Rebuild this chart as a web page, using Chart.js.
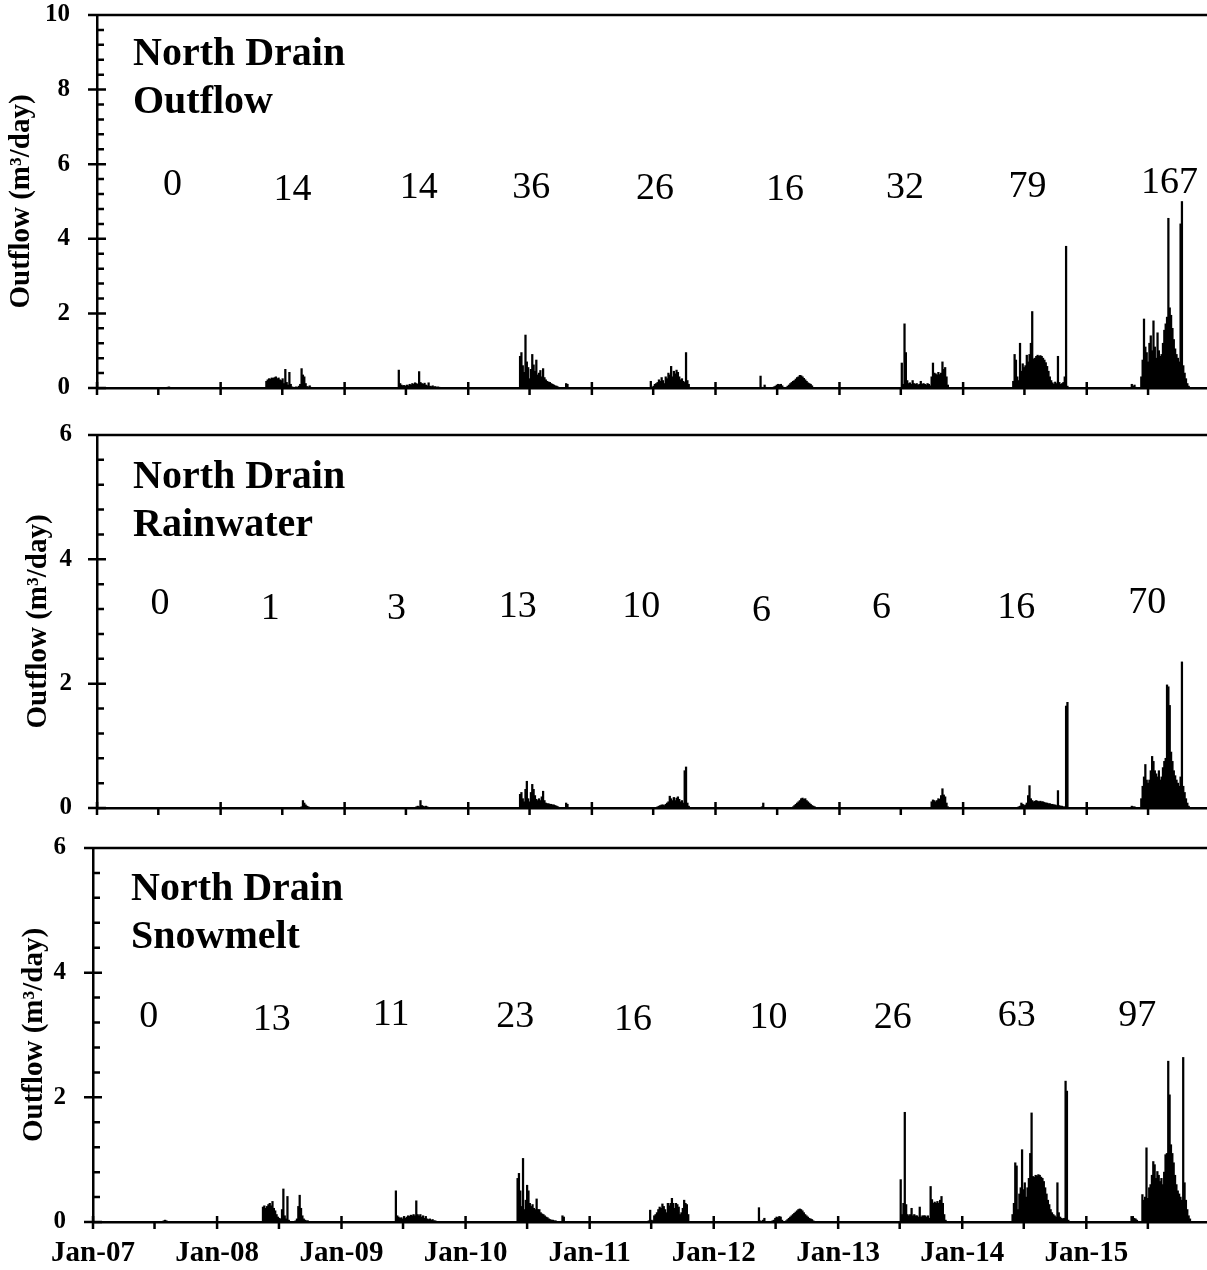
<!DOCTYPE html>
<html>
<head>
<meta charset="utf-8">
<script src="https://cdn.jsdelivr.net/npm/chart.js@4.4.0/dist/chart.umd.min.js"></script>
<style>
  html, body { margin: 0; padding: 0; background: #fff; }
  #wrap { position: relative; width: 1207px; height: 1270px; }
  #wrap canvas { position: absolute; left: 0; }
</style>
</head>
<body>
<div id="wrap">
  <canvas id="c1" width="1207" height="410" style="top:0"></canvas>
  <canvas id="c2" width="1207" height="410" style="top:410px"></canvas>
  <canvas id="c3" width="1207" height="450" style="top:820px"></canvas>
</div>
<script>
'use strict'

// ---- data ----
const years = [2007, 2008, 2009, 2010, 2011, 2012, 2013, 2014, 2015]
const tickLabels = ['Jan-07', 'Jan-08', 'Jan-09', 'Jan-10', 'Jan-11', 'Jan-12', 'Jan-13', 'Jan-14', 'Jan-15']

// first day of each year's flow season, values are read every STEP_DAYS from there
const burstStart = ['2007-07-28', '2008-05-15', '2009-06-10', '2010-06-03', '2011-06-24',
  '2012-05-13', '2013-07-04', '2014-05-29', '2015-05-14']
const STEP_DAYS = 4

const outflowDaily = [
  [0.02, 0.03, 0.02, 0.01],
  [0.18, 0.22, 0.25, 0.24, 0.27, 0.26, 0.28, 0.30, 0.25, 0.27, 0.22, 0.20, 0.25, 0.12, 0.50, 0.15, 0.08, 0.42, 0.10, 0.03,
    0.02, 0.02, 0.03, 0.02, 0.05, 0.10, 0.52, 0.35, 0.30, 0.12, 0.04, 0.03, 0.06, 0.02],
  [0.48, 0.12, 0.08, 0.06, 0.07, 0.05, 0.08, 0.06, 0.10, 0.08, 0.12, 0.10, 0.14, 0.12, 0.10, 0.44, 0.15, 0.12, 0.10, 0.13,
    0.08, 0.06, 0.14, 0.05, 0.04, 0.06, 0.03, 0.04, 0.02, 0.03, 0.02],
  [0.85, 0.95, 0.60, 0.42, 1.42, 0.70, 0.55, 0.25, 0.50, 0.90, 0.62, 0.45, 0.75, 0.35, 0.40, 0.47, 0.30, 0.52, 0.28, 0.22,
    0.18, 0.16, 0.15, 0.12, 0.10, 0.08, 0.06, 0.05, 0.03, 0, 0, 0, 0, 0, 0.12, 0.10],
  [0.18, 0.02, 0.05, 0.10, 0.12, 0.15, 0.22, 0.18, 0.28, 0.20, 0.12, 0.30, 0.25, 0.40, 0.35, 0.58, 0.30, 0.45, 0.38, 0.48,
    0.42, 0.30, 0.22, 0.25, 0.18, 0.15, 0.95, 0.20, 0.10],
  [0.32, 0.02, 0, 0.08, 0.02, 0, 0, 0, 0.01, 0.02, 0.03, 0.05, 0.08, 0.10, 0.09, 0.10, 0.06, 0.02, 0, 0.02,
    0.05, 0.08, 0.12, 0.15, 0.18, 0.20, 0.24, 0.28, 0.30, 0.34, 0.33, 0.30, 0.26, 0.22, 0.18, 0.14, 0.12, 0.10, 0.06],
  [0.67, 0.10, 1.72, 0.95, 0.20, 0.12, 0.14, 0.10, 0.20, 0.12, 0.10, 0.12, 0.08, 0.10, 0.18, 0.10, 0.12, 0.10, 0.08, 0.12,
    0.10, 0.06, 0.30, 0.67, 0.40, 0.38, 0.35, 0.42, 0.36, 0.40, 0.70, 0.50, 0.55, 0.30, 0.08],
  [0.18, 0.90, 0.75, 0.30, 0.20, 1.20, 0.45, 0.65, 0.55, 0.60, 0.88, 0.70, 0.90, 1.20, 2.05, 0.78, 0.80, 0.85, 0.88, 0.85,
    0.87, 0.85, 0.80, 0.75, 0.68, 0.58, 0.45, 0.30, 0.20, 0.14, 0.10, 0.16, 0.12, 0.85, 0.15, 0.10, 0.12, 0.15, 0.30, 3.80, 0.05],
  [0.10, 0.05, 0.08, 0.02, 0, 0, 0, 0.30, 0.75, 1.85, 1.10, 0.95, 0.70, 1.20, 1.40, 1.00, 1.80, 1.10, 0.80, 1.48,
    1.00, 0.85, 0.90, 1.20, 1.55, 1.72, 1.90, 4.55, 2.15, 1.95, 1.60, 1.30, 1.05, 0.90, 0.80, 0.70, 4.40, 5.00, 0.60, 0.40,
    0.25, 0.12, 0.05]
]

const rainDaily = [
  [],
  [0.01, 0.01, 0, 0, 0, 0, 0, 0, 0, 0, 0, 0, 0, 0, 0.01, 0, 0, 0.01, 0, 0,
    0, 0, 0, 0, 0, 0, 0.02, 0.12, 0.08, 0.05, 0.03, 0.02, 0.01, 0.01],
  [0, 0, 0, 0, 0, 0, 0, 0, 0, 0, 0, 0, 0, 0.02, 0.03, 0.02, 0.12, 0.04, 0.03, 0.02, 0.03, 0.02, 0.01],
  [0.22, 0.25, 0.15, 0.10, 0.30, 0.43, 0.15, 0.10, 0.25, 0.38, 0.30, 0.20, 0.14, 0.12, 0.15, 0.12, 0.18, 0.27, 0.12, 0.08,
    0.07, 0.07, 0.06, 0.06, 0.05, 0.05, 0.04, 0.03, 0.02, 0, 0, 0, 0, 0, 0.08, 0.06],
  [0, 0, 0, 0, 0.01, 0.02, 0.03, 0.04, 0.05, 0.05, 0.04, 0.06, 0.08, 0.10, 0.19, 0.15, 0.12, 0.17, 0.12, 0.16,
    0.18, 0.14, 0.10, 0.12, 0.08, 0.60, 0.66, 0.08, 0.03],
  [0, 0.02, 0.08, 0.01, 0, 0, 0, 0, 0, 0, 0, 0, 0, 0, 0, 0, 0, 0, 0, 0,
    0, 0, 0, 0.01, 0.02, 0.04, 0.06, 0.08, 0.10, 0.12, 0.15, 0.16, 0.14, 0.15, 0.12, 0.10, 0.08, 0.06, 0.04, 0.03, 0.02],
  [0, 0, 0, 0, 0, 0, 0, 0, 0, 0, 0, 0, 0, 0, 0, 0, 0, 0, 0, 0,
    0, 0, 0.10, 0.13, 0.12, 0.10, 0.12, 0.15, 0.14, 0.20, 0.31, 0.21, 0.18, 0.08, 0.02],
  [0, 0, 0, 0, 0.02, 0.03, 0.08, 0.06, 0.04, 0.05, 0.08, 0.20, 0.36, 0.15, 0.12, 0.10, 0.11, 0.12, 0.11, 0.10,
    0.11, 0.10, 0.10, 0.09, 0.08, 0.08, 0.07, 0.07, 0.06, 0.06, 0.05, 0.05, 0.04, 0.28, 0.04, 0.03, 0.03, 0.02, 0.02, 1.64, 1.70],
  [0.03, 0.02, 0.02, 0, 0, 0, 0, 0.15, 0.35, 0.50, 0.70, 0.45, 0.40, 0.45, 0.60, 0.83, 0.75, 0.60, 0.55, 0.50,
    0.60, 0.45, 0.50, 0.65, 0.75, 0.80, 1.98, 1.95, 1.65, 0.90, 0.75, 0.60, 0.52, 0.45, 0.40, 0.35, 0.50, 2.35, 0.35, 0.25,
    0.15, 0.08, 0.03]
]

const snowDaily = [
  [0.02, 0.03, 0.02],
  [0.24, 0.26, 0.22, 0.25, 0.28, 0.30, 0.26, 0.33, 0.22, 0.18, 0.12, 0.08, 0.06, 0.05, 0.20, 0.53, 0.10, 0.05, 0.41, 0.03,
    0.01, 0.01, 0.01, 0.01, 0.02, 0.05, 0.25, 0.43, 0.22, 0.10, 0.05, 0.03, 0.02, 0.02],
  [0.50, 0.10, 0.08, 0.06, 0.07, 0.05, 0.09, 0.06, 0.08, 0.10, 0.09, 0.11, 0.10, 0.12, 0.10, 0.34, 0.12, 0.10, 0.12, 0.08,
    0.10, 0.06, 0.09, 0.05, 0.04, 0.05, 0.03, 0.04, 0.02, 0.02, 0.01],
  [0.70, 0.78, 0.50, 0.25, 1.02, 0.20, 0.35, 0.59, 0.50, 0.30, 0.25, 0.28, 0.22, 0.20, 0.37, 0.20, 0.20, 0.15, 0.13, 0.12,
    0.10, 0.08, 0.07, 0.05, 0.04, 0.03, 0.03, 0.02, 0.02, 0, 0, 0, 0, 0.10, 0.08],
  [0.02, 0.19, 0.03, 0.02, 0.10, 0.12, 0.15, 0.20, 0.24, 0.22, 0.29, 0.25, 0.20, 0.15, 0.30, 0.26, 0.30, 0.38, 0.30, 0.22,
    0.30, 0.28, 0.24, 0.12, 0.15, 0.22, 0.35, 0.30, 0.28, 0.12],
  [0.23, 0.02, 0, 0.03, 0.06, 0, 0, 0, 0, 0.01, 0.02, 0.03, 0.06, 0.08, 0.07, 0.09, 0.08, 0.03, 0, 0,
    0.02, 0.04, 0.06, 0.08, 0.10, 0.12, 0.14, 0.16, 0.18, 0.20, 0.21, 0.20, 0.18, 0.15, 0.12, 0.10, 0.08, 0.06, 0.05, 0.04, 0.02],
  [0.68, 0.12, 0.30, 1.76, 0.28, 0.12, 0.10, 0.12, 0.22, 0.10, 0.12, 0.10, 0.10, 0.08, 0.24, 0.08, 0.10, 0.10, 0.10, 0.08,
    0.10, 0.06, 0.57, 0.36, 0.30, 0.32, 0.30, 0.33, 0.30, 0.35, 0.41, 0.30, 0.12, 0.03],
  [0.12, 0.30, 0.95, 0.90, 0.20, 0.45, 0.55, 1.16, 0.52, 0.63, 0.40, 0.55, 0.70, 1.10, 1.75, 0.73, 0.72, 0.75, 0.74, 0.76,
    0.75, 0.72, 0.70, 0.65, 0.55, 0.45, 0.35, 0.28, 0.20, 0.15, 0.12, 0.10, 0.08, 0.63, 0.15, 0.08, 0.06, 0.05, 0.06, 2.26,
    2.10, 0.03],
  [0.09, 0.09, 0.06, 0.05, 0.03, 0, 0, 0, 0.44, 0.35, 0.40, 1.19, 0.38, 0.55, 0.60, 0.75, 0.97, 0.92, 0.70, 0.81,
    0.75, 0.65, 0.70, 0.60, 0.80, 1.08, 1.10, 2.58, 2.04, 1.24, 1.10, 0.95, 0.75, 0.60, 0.50, 0.45, 0.40, 0.35, 2.64, 0.63,
    0.35, 0.20, 0.10, 0.05]
]

// yearly totals printed above each season
const outflowTotals = [0, 14, 14, 36, 26, 16, 32, 79, 167]
const rainTotals = [0, 1, 3, 13, 10, 6, 6, 16, 70]
const snowTotals = [0, 13, 11, 23, 16, 10, 26, 63, 97]

// ---- helpers ----
const FONT = '"Liberation Serif", "Times New Roman", serif'
Chart.defaults.font.family = FONT
Chart.defaults.color = '#000'

const DAY = 86400000
const ORIGIN = Date.UTC(2007, 0, 1)
function dayNum (iso) {
  const [y, m, d] = iso.split('-').map(Number)
  return (Date.UTC(y, m - 1, d) - ORIGIN) / DAY
}
// decimal year -> day number
function yearPos (v) {
  const y = Math.floor(v)
  const start = Date.UTC(y, 0, 1)
  const len = (Date.UTC(y + 1, 0, 1) - start) / DAY
  return (start - ORIGIN) / DAY + (v - y) * len
}
function toPoints (bursts) {
  const pts = []
  bursts.forEach((vals, k) => {
    const d0 = dayNum(burstStart[k])
    vals.forEach((v, i) => pts.push({ x: d0 + i * STEP_DAYS, y: v }))
  })
  return pts
}

const janTicks = years.map(y => dayNum(y + '-01-01'))
const julTicks = years.map(y => dayNum(y + '-07-01'))
const xMax = dayNum('2015-12-22')

// ticks that cross the axes, the top frame line and the in-plot text
const panelDecor = {
  id: 'panelDecor',
  afterDraw (chart, args, opts) {
    const { ctx, chartArea: a } = chart
    const x = chart.scales.x
    const y = chart.scales.y
    ctx.save()
    ctx.strokeStyle = '#000'
    ctx.lineWidth = 2.5
    ctx.beginPath()
    ctx.moveTo(a.left, a.top)
    ctx.lineTo(chart.width, a.top)
    y.ticks.forEach(t => {
      const py = y.getPixelForValue(t.value)
      ctx.moveTo(a.left - 9, py)
      ctx.lineTo(a.left + 9, py)
    })
    const nMinor = Math.round(y.max / 0.4)
    for (let k = 0; k <= nMinor; k++) {
      const py = y.getPixelForValue(k * 0.4)
      ctx.moveTo(a.left, py)
      ctx.lineTo(a.left + 7, py)
    }
    janTicks.forEach(d => {
      const px = x.getPixelForValue(d)
      ctx.moveTo(px, a.bottom - 6)
      ctx.lineTo(px, a.bottom + 7)
    })
    julTicks.forEach(d => {
      const px = x.getPixelForValue(d)
      ctx.moveTo(px, a.bottom)
      ctx.lineTo(px, a.bottom + 7)
    })
    ctx.stroke()

    ctx.fillStyle = '#000'
    ctx.font = 'bold 40px ' + FONT
    ctx.textAlign = 'left'
    ctx.textBaseline = 'alphabetic'
    opts.title.forEach((line, i) => ctx.fillText(line, opts.titleX, a.top + opts.titleY + i * 48))

    ctx.font = '38px ' + FONT
    ctx.textAlign = 'center'
    ctx.textBaseline = 'middle'
    opts.totals.forEach((t, i) => {
      ctx.fillText(String(t), x.getPixelForValue(yearPos(opts.labelAt[i])), y.getPixelForValue(opts.labelY[i]))
    })
    ctx.restore()
  }
}

function makePanel (id, cfg) {
  return new Chart(document.getElementById(id), {
    type: 'bar',
    data: {
      datasets: [{
        data: toPoints(cfg.series),
        backgroundColor: '#000',
        borderWidth: 0,
        barThickness: 1.6
      }]
    },
    options: {
      responsive: false,
      animation: false,
      devicePixelRatio: 1,
      layout: { padding: { top: cfg.top, left: 0, right: 0, bottom: 0 } },
      plugins: {
        legend: { display: false },
        tooltip: { enabled: false },
        panelDecor: {
          title: cfg.title,
          titleX: cfg.titleX,
          titleY: cfg.titleY,
          totals: cfg.totals,
          labelAt: cfg.labelAt,
          labelY: cfg.labelY
        }
      },
      scales: {
        x: {
          type: 'linear',
          min: 0,
          max: xMax,
          offset: false,
          grid: { display: false, drawTicks: false },
          border: { display: true, color: '#000', width: 2.5 },
          afterBuildTicks: s => { s.ticks = janTicks.map(v => ({ value: v })) },
          ticks: {
            display: cfg.xLabels,
            autoSkip: false,
            maxRotation: 0,
            padding: 17,
            color: '#000',
            font: { size: 29, weight: 'bold', lineHeight: 1 },
            callback: (v, i) => tickLabels[i]
          },
          afterFit: s => { s.height = cfg.xHeight }
        },
        y: {
          min: 0,
          max: cfg.yMax,
          grid: { display: false, drawTicks: false },
          border: { display: true, color: '#000', width: 2.5 },
          ticks: {
            stepSize: 2,
            padding: cfg.yPad,
            color: '#000',
            font: { size: 25, weight: 'bold', lineHeight: 1 }
          },
          title: {
            display: true,
            text: 'Outflow (m³/day)',
            color: '#000',
            font: { size: 29, weight: 'bold' },
            padding: { top: cfg.titlePad, bottom: 0 }
          },
          afterFit: s => {
            s.width = cfg.left
            s.paddingTop = 0
            s.paddingBottom = 0
          }
        }
      }
    },
    plugins: [panelDecor]
  })
}

makePanel('c1', {
  series: outflowDaily,
  totals: outflowTotals,
  labelAt: [2007.61, 2008.58, 2009.60, 2010.51, 2011.51, 2012.56, 2013.53, 2014.52, 2015.67],
  labelY: [5.44, 5.31, 5.36, 5.36, 5.34, 5.31, 5.36, 5.39, 5.50],
  title: ['North Drain', 'Outflow'],
  titleX: 133,
  titleY: 50,
  yMax: 10,
  top: 15,
  left: 97,
  xHeight: 22,
  xLabels: false,
  yPad: 27,
  titlePad: 4
})

makePanel('c2', {
  series: rainDaily,
  totals: rainTotals,
  labelAt: [2007.51, 2008.40, 2009.42, 2010.40, 2011.40, 2012.37, 2013.34, 2014.43, 2015.49],
  labelY: [3.28, 3.20, 3.20, 3.23, 3.23, 3.17, 3.22, 3.22, 3.30],
  title: ['North Drain', 'Rainwater'],
  titleX: 133,
  titleY: 53,
  yMax: 6,
  top: 25,
  left: 97,
  xHeight: 12,
  xLabels: false,
  yPad: 25,
  titlePad: 21
})

makePanel('c3', {
  series: snowDaily,
  totals: snowTotals,
  labelAt: [2007.45, 2008.44, 2009.40, 2010.40, 2011.35, 2012.44, 2013.44, 2014.44, 2015.41],
  labelY: [3.29, 3.24, 3.32, 3.29, 3.24, 3.27, 3.27, 3.31, 3.31],
  title: ['North Drain', 'Snowmelt'],
  titleX: 131,
  titleY: 52,
  yMax: 6,
  top: 28,
  left: 93,
  xHeight: 48,
  xLabels: true,
  yPad: 27,
  titlePad: 17
})
</script>
</body>
</html>
